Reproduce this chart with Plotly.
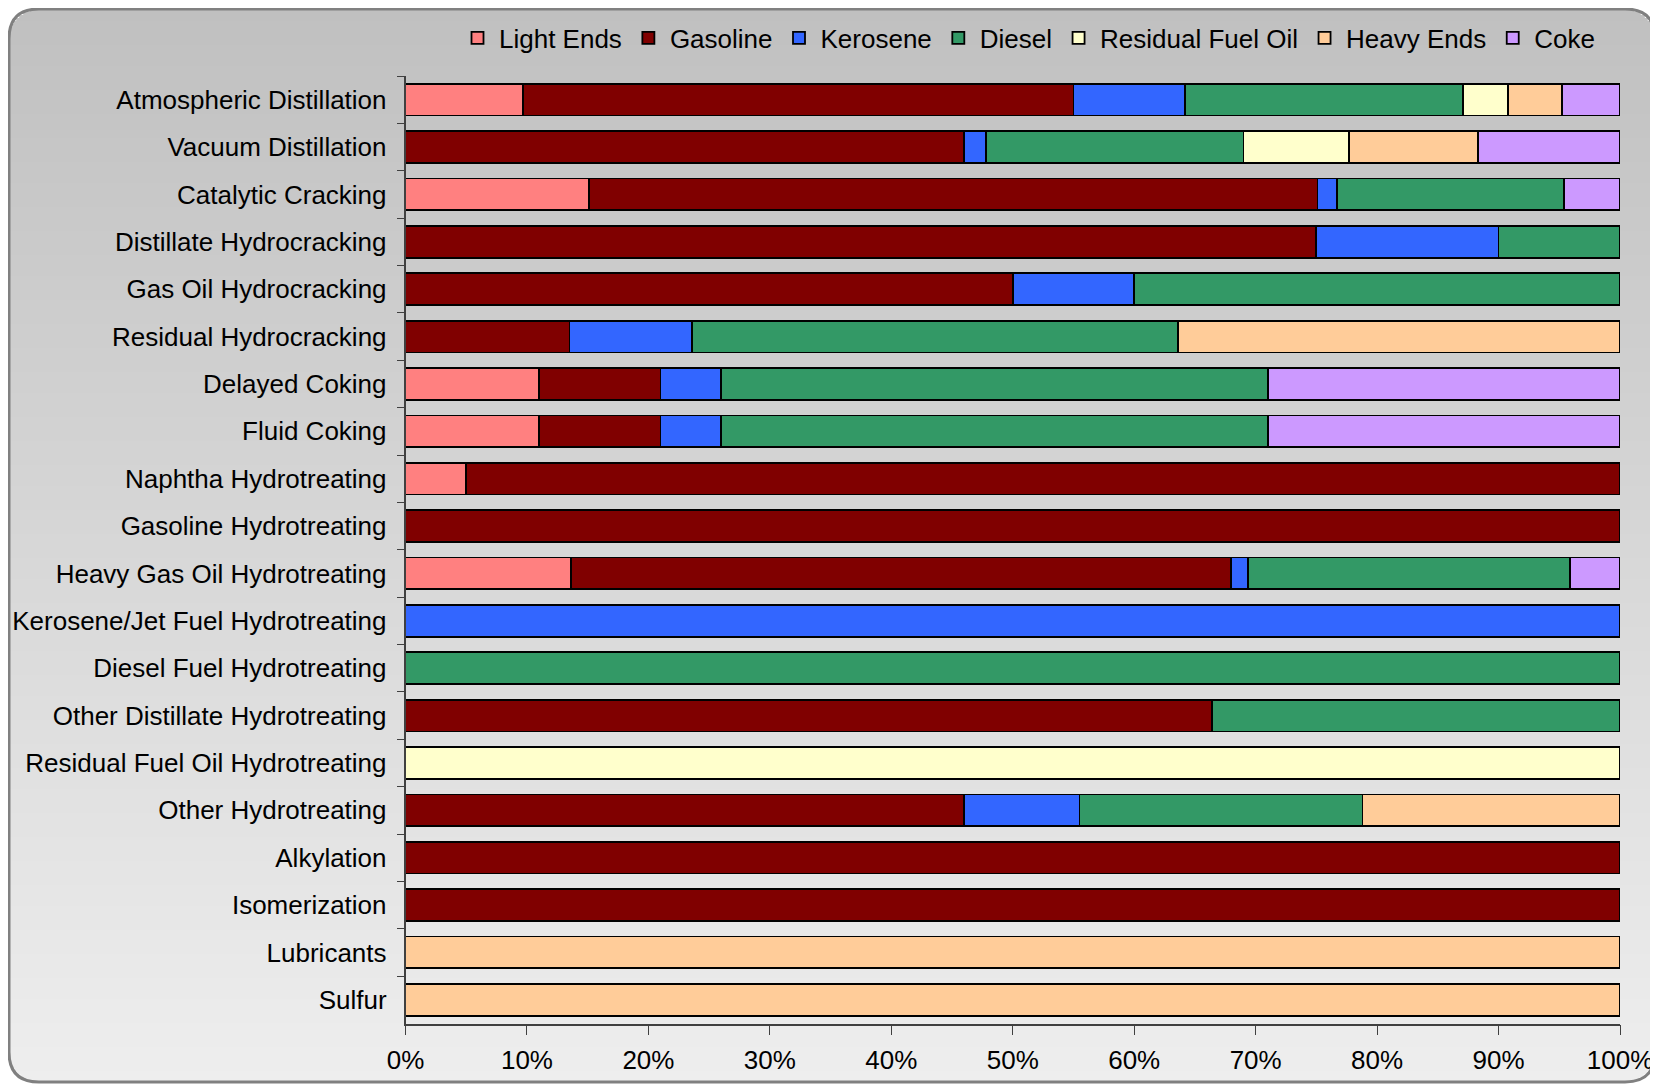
import math
import plotly.graph_objects as go

# Refinery process units and yield shares (%) by product
units = [
    "Atmospheric Distillation", "Vacuum Distillation", "Catalytic Cracking",
    "Distillate Hydrocracking", "Gas Oil Hydrocracking", "Residual Hydrocracking",
    "Delayed Coking", "Fluid Coking", "Naphtha Hydrotreating", "Gasoline Hydrotreating",
    "Heavy Gas Oil Hydrotreating", "Kerosene/Jet Fuel Hydrotreating",
    "Diesel Fuel Hydrotreating", "Other Distillate Hydrotreating",
    "Residual Fuel Oil Hydrotreating", "Other Hydrotreating", "Alkylation",
    "Isomerization", "Lubricants", "Sulfur",
]

light_ends = [9.7, 0, 15.1, 0, 0, 0, 11, 11, 5, 0, 13.6, 0, 0, 0, 0, 0, 0, 0, 0, 0]
gasoline = [45.3, 46.0, 60.0, 75, 50, 13.5, 10, 10, 95, 100, 54.4, 0, 0, 66.4, 0, 46.0, 100, 100, 0, 0]
kerosene = [9.2, 1.8, 1.6, 15, 10, 10.1, 5, 5, 0, 0, 1.4, 100, 0, 0, 0, 9.5, 0, 0, 0, 0]
diesel = [22.9, 21.2, 18.7, 10, 40, 40.0, 45, 45, 0, 0, 26.5, 0, 100, 33.6, 0, 23.3, 0, 0, 0, 0]
residual_fuel_oil = [3.7, 8.7, 0, 0, 0, 0, 0, 0, 0, 0, 0, 0, 0, 0, 100, 0, 0, 0, 0, 0]
heavy_ends = [4.4, 10.6, 0, 0, 0, 36.4, 0, 0, 0, 0, 0, 0, 0, 0, 0, 21.2, 0, 0, 100, 100]
coke = [4.8, 11.7, 4.6, 0, 0, 0, 29, 29, 0, 0, 4.1, 0, 0, 0, 0, 0, 0, 0, 0, 0]

series = [
    ("Light Ends", light_ends, "#ff8080"),
    ("Gasoline", gasoline, "#800000"),
    ("Kerosene", kerosene, "#3366ff"),
    ("Diesel", diesel, "#339966"),
    ("Residual Fuel Oil", residual_fuel_oil, "#ffffcc"),
    ("Heavy Ends", heavy_ends, "#ffcc99"),
    ("Coke", coke, "#cc99ff"),
]

# page has an 8px body margin, so the figure is laid out in page coords minus 8
OFF = 8
W, H = 1658 - OFF, 1085 - OFF
FONT = dict(family="Arial, Liberation Sans, sans-serif", size=26, color="#000000")


def fx(v):
    return (v - OFF) / W


def fy(v):
    return 1 - (v - OFF) / H


fig = go.Figure()
for name, vals, color in series:
    fig.add_trace(go.Bar(
        y=units, x=vals, name=name, orientation="h",
        marker=dict(color=color, line=dict(color="#000000", width=1.8)),
    ))

# gradient background clipped to a rounded rectangle (page coords)
x0, x1, y0, y1, rad = 9, 1655, 9, 1082, 30
shapes = []
step = 3
y = y0
while y < y1:
    yb = min(y + step, y1)
    ym = (y + yb) / 2
    inset = 0
    if ym < y0 + rad:
        d = y0 + rad - ym
        inset = rad - math.sqrt(max(rad * rad - d * d, 0))
    elif ym > y1 - rad:
        d = ym - (y1 - rad)
        inset = rad - math.sqrt(max(rad * rad - d * d, 0))
    t = (ym - y0) / (y1 - y0)
    c = int(round(192 + (238 - 192) * t))
    shapes.append(dict(
        type="rect", xref="paper", yref="paper", layer="below",
        x0=fx(x0 + inset), x1=fx(x1 - inset),
        y0=fy(yb), y1=fy(y),
        fillcolor=f"rgb({c},{c},{c})", line=dict(width=0),
    ))
    y = yb


def pt(xv, yv):
    return f"{fx(xv):.5f},{fy(yv):.5f}"


border = (
    f"M {pt(x0 + rad, y0)} L {pt(x1 - rad, y0)} "
    f"Q {pt(x1, y0)} {pt(x1, y0 + rad)} L {pt(x1, y1 - rad)} "
    f"Q {pt(x1, y1)} {pt(x1 - rad, y1)} L {pt(x0 + rad, y1)} "
    f"Q {pt(x0, y1)} {pt(x0, y1 - rad)} L {pt(x0, y0 + rad)} "
    f"Q {pt(x0, y0)} {pt(x0 + rad, y0)} Z"
)
shapes.append(dict(type="path", xref="paper", yref="paper", path=border,
                   line=dict(color="#808080", width=3), layer="below"))

fig.update_layout(
    width=W, height=H,
    barmode="stack", bargap=0.33,
    paper_bgcolor="#ffffff", plot_bgcolor="rgba(0,0,0,0)",
    margin=dict(l=0, r=0, t=0, b=0, autoexpand=False),
    font=FONT,
    shapes=shapes,
    showlegend=True,
    legend=dict(
        orientation="h", x=fx(456), xanchor="left", y=fy(38), yanchor="middle",
        bgcolor="rgba(0,0,0,0)", font=FONT, traceorder="normal",
        itemwidth=33,
    ),
    xaxis=dict(
        domain=[fx(405.5), fx(1620)], range=[0, 100],
        tickvals=list(range(0, 101, 10)),
        ticktext=[f"{v}%" for v in range(0, 101, 10)],
        ticks="outside", ticklen=10, tickcolor="#404040", tickwidth=1,
        showline=True, linecolor="#404040", linewidth=1.5,
        showgrid=False, zeroline=False, ticklabelstandoff=3,
        automargin=False, fixedrange=True,
    ),
    yaxis=dict(
        domain=[fy(1023.5), fy(76)],
        autorange="reversed", type="category",
        ticks="outside", tickson="boundaries", ticklen=7,
        tickcolor="#404040", tickwidth=1,
        showline=True, linecolor="#404040", linewidth=1.5,
        showgrid=False, ticklabelstandoff=12,
        automargin=False, fixedrange=True,
    ),
)

fig.write_html("out.html")
